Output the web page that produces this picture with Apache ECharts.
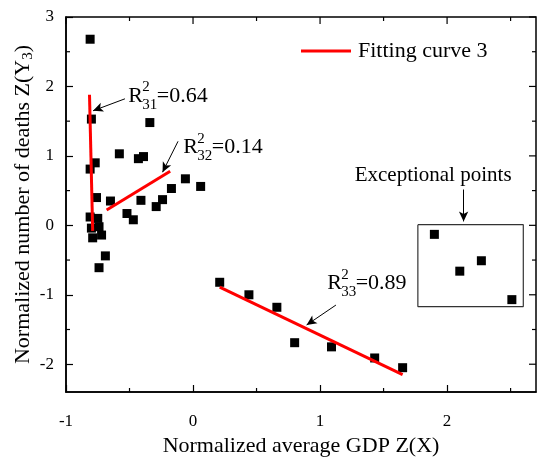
<!DOCTYPE html>
<html>
<head>
<meta charset="utf-8">
<script src="https://cdn.jsdelivr.net/npm/echarts@6/dist/echarts.min.js"></script>
<style>
html, body { margin: 0; padding: 0; background: #fff; }
#chart { width: 538px; height: 457px; }
</style>
</head>
<body>
<div id="chart"></div>
<script>
// Axis ranges and tick positions
const xRange = [-1, 2.7];
const yRange = [-2.4, 3];
const xTicks = [-1, 0, 1, 2];
const xMinorTicks = [-0.5, 0.5, 1.5, 2.5];
const yTicks = [-2, -1, 0, 1, 2, 3];
const yMinorTicks = [-1.5, -0.5, 0.5, 1.5, 2.5];

// Observations: normalized GDP vs normalized deaths
const clusterPoints = [
  [-0.81, 2.68], [-0.80, 1.53], [-0.34, 1.48], [-0.58, 1.03], [-0.77, 0.90],
  [-0.81, 0.81], [-0.43, 0.96], [-0.39, 0.99], [-0.06, 0.67], [0.06, 0.56],
  [-0.17, 0.53], [-0.76, 0.40], [-0.65, 0.35], [-0.41, 0.36], [-0.24, 0.37],
  [-0.29, 0.27], [-0.52, 0.17], [-0.47, 0.08], [-0.81, 0.12], [-0.75, 0.10],
  [-0.80, -0.04], [-0.74, -0.02], [-0.72, -0.14], [-0.79, -0.18], [-0.69, -0.44],
  [-0.74, -0.61]
];
const trendPoints = [
  [0.21, -0.82], [0.44, -1.00], [0.66, -1.18], [0.80, -1.69], [1.09, -1.75],
  [1.43, -1.91], [1.65, -2.05]
];
const exceptionalPoints = [
  [1.90, -0.13], [2.10, -0.66], [2.27, -0.51], [2.51, -1.07]
];

// Fitted segments
const fit31 = [[-0.815, 1.88], [-0.79, -0.08]];
const fit32 = [[-0.68, 0.22], [-0.18, 0.78]];
const fit33 = [[0.21, -0.89], [1.65, -2.15]];

// Box around the exceptional points
const exceptionBox = [[1.77, 0.01], [2.60, 0.01], [2.60, -1.17], [1.77, -1.17], [1.77, 0.01]];

// R² annotations
const rAnchors = [[-0.51, 1.865], [-0.077, 1.126], [1.056, -0.832]];
const rSubscripts = ['31', '32', '33'];
const rValues = ['0.64', '0.14', '0.89'];
const exceptionText = 'Exceptional points';
const exceptionAnchor = [[1.89, 0.72]];

// Arrows: [from, to]
const arrows = [
  [[-0.536, 1.822], [-0.787, 1.65]],
  [[-0.118, 1.21], [-0.24, 0.765]],
  [[1.125, -1.148], [0.894, -1.435]],
  [[2.13, 0.516], [2.13, 0.057]]
];

const FONT = '"Liberation Serif", "Times New Roman", serif';
const BLACK = '#000';
const RED = '#ff0000';
const MAJOR_LEN = 7;
const MINOR_LEN = 4;

const chart = echarts.init(document.getElementById('chart'), null, { renderer: 'canvas' });

// Inward ticks on all four sides of the frame (minor everywhere, major on top/right)
function renderFrameTicks(params, api) {
  const children = [];
  const stroke = { stroke: BLACK, lineWidth: 1.2 };
  function tick(p, dx, dy, len) {
    children.push({
      type: 'line',
      shape: { x1: p[0], y1: p[1], x2: p[0] + dx * len, y2: p[1] + dy * len },
      style: stroke
    });
  }
  xTicks.forEach(v => tick(api.coord([v, yRange[1]]), 0, 1, MAJOR_LEN));
  xMinorTicks.forEach(v => {
    tick(api.coord([v, yRange[0]]), 0, -1, MINOR_LEN);
    tick(api.coord([v, yRange[1]]), 0, 1, MINOR_LEN);
  });
  yTicks.forEach(v => tick(api.coord([xRange[1], v]), -1, 0, MAJOR_LEN));
  yMinorTicks.forEach(v => {
    tick(api.coord([xRange[0], v]), 1, 0, MINOR_LEN);
    tick(api.coord([xRange[1], v]), -1, 0, MINOR_LEN);
  });
  return { type: 'group', children: children };
}

const option = {
  animation: false,
  backgroundColor: '#fff',
  grid: {
    left: 66, right: 2, top: 17, bottom: 65,
    containLabel: false,
    outerBoundsMode: 'none',
    show: true,
    borderColor: BLACK,
    borderWidth: 1.5,
    backgroundColor: 'transparent'
  },
  xAxis: {
    type: 'value',
    min: xRange[0],
    max: xRange[1],
    axisLine: { show: true, onZero: false, lineStyle: { color: BLACK, width: 1.5 } },
    axisTick: { show: true, inside: true, length: MAJOR_LEN, customValues: xTicks, lineStyle: { color: BLACK, width: 1.2 } },
    axisLabel: { customValues: xTicks, color: BLACK, fontFamily: FONT, fontSize: 17, margin: 21 },
    splitLine: { show: false },
    name: 'Normalized average GDP Z(X)',
    nameLocation: 'middle',
    nameGap: 43,
    nameMoveOverlap: false,
    nameTextStyle: { color: BLACK, fontFamily: FONT, fontSize: 22 }
  },
  yAxis: {
    type: 'value',
    min: yRange[0],
    max: yRange[1],
    axisLine: { show: true, onZero: false, lineStyle: { color: BLACK, width: 1.5 } },
    axisTick: { show: true, inside: true, length: MAJOR_LEN, customValues: yTicks, lineStyle: { color: BLACK, width: 1.2 } },
    axisLabel: { customValues: yTicks, color: BLACK, fontFamily: FONT, fontSize: 17, margin: 12 },
    splitLine: { show: false },
    name: 'Normalized number of deaths Z(Y{sub|3})',
    nameLocation: 'middle',
    nameGap: 30,
    nameMoveOverlap: false,
    nameTextStyle: {
      color: BLACK, fontFamily: FONT, fontSize: 22,
      rich: { sub: { fontFamily: FONT, fontSize: 15, color: BLACK, padding: [10, 0, 0, 0] } }
    }
  },
  legend: {
    show: true,
    left: 296,
    top: 35,
    itemWidth: 50,
    itemHeight: 3,
    itemGap: 10,
    selectedMode: false,
    data: [{ name: 'Fitting curve 3', icon: 'rect', itemStyle: { color: RED } }],
    textStyle: { color: BLACK, fontFamily: FONT, fontSize: 22, padding: [0, 0, 0, 2] }
  },
  series: [
    {
      name: 'Points',
      type: 'scatter',
      symbol: 'rect',
      symbolSize: 9,
      itemStyle: { color: BLACK, opacity: 1 },
      data: clusterPoints.concat(trendPoints, exceptionalPoints),
      z: 3,
      silent: true
    },
    ...[fit31, fit32, fit33].map(seg => ({
      name: 'Fitting curve 3',
      type: 'line',
      data: seg,
      showSymbol: false,
      symbol: 'none',
      lineStyle: { color: RED, width: 3 },
      itemStyle: { color: RED },
      z: 4,
      silent: true
    })),
    {
      name: 'Exception box',
      type: 'line',
      data: exceptionBox,
      showSymbol: false,
      symbol: 'none',
      lineStyle: { color: '#333', width: 1.2 },
      silent: true,
      z: 2,
      markLine: {
        silent: true,
        symbol: ['none', 'arrow'],
        symbolSize: [7, 10],
        label: { show: false },
        lineStyle: { color: BLACK, width: 1, type: 'solid' },
        emphasis: { disabled: true },
        data: arrows.map(a => [{ coord: a[0] }, { coord: a[1] }])
      }
    },
    {
      name: 'R2 labels',
      type: 'custom',
      data: rAnchors,
      silent: true,
      z: 6,
      renderItem: function (params, api) {
        const i = params.dataIndex;
        const p = api.coord([api.value(0), api.value(1)]);
        const base = { fill: BLACK, fontFamily: FONT, verticalAlign: 'middle', align: 'left' };
        return {
          type: 'group',
          children: [
            { type: 'text', x: p[0], y: p[1], style: Object.assign({}, base, { text: 'R', fontSize: 22 }) },
            { type: 'text', x: p[0] + 14, y: p[1] - 8.5, style: Object.assign({}, base, { text: '2', fontSize: 15 }) },
            { type: 'text', x: p[0] + 14, y: p[1] + 9, style: Object.assign({}, base, { text: rSubscripts[i], fontSize: 15 }) },
            { type: 'text', x: p[0] + 28.5, y: p[1], style: Object.assign({}, base, { text: '=' + rValues[i], fontSize: 22 }) }
          ]
        };
      }
    },
    {
      name: 'Exception label',
      type: 'custom',
      data: exceptionAnchor,
      silent: true,
      z: 6,
      renderItem: function (params, api) {
        const p = api.coord([api.value(0), api.value(1)]);
        return {
          type: 'text', x: p[0], y: p[1],
          style: { text: exceptionText, fill: BLACK, fontFamily: FONT, fontSize: 21, align: 'center', verticalAlign: 'middle' }
        };
      }
    },
    {
      name: 'Frame ticks',
      type: 'custom',
      data: [[xRange[0], yRange[0]]],
      silent: true,
      z: 5,
      renderItem: renderFrameTicks
    }
  ]
};

chart.setOption(option);
</script>
</body>
</html>
